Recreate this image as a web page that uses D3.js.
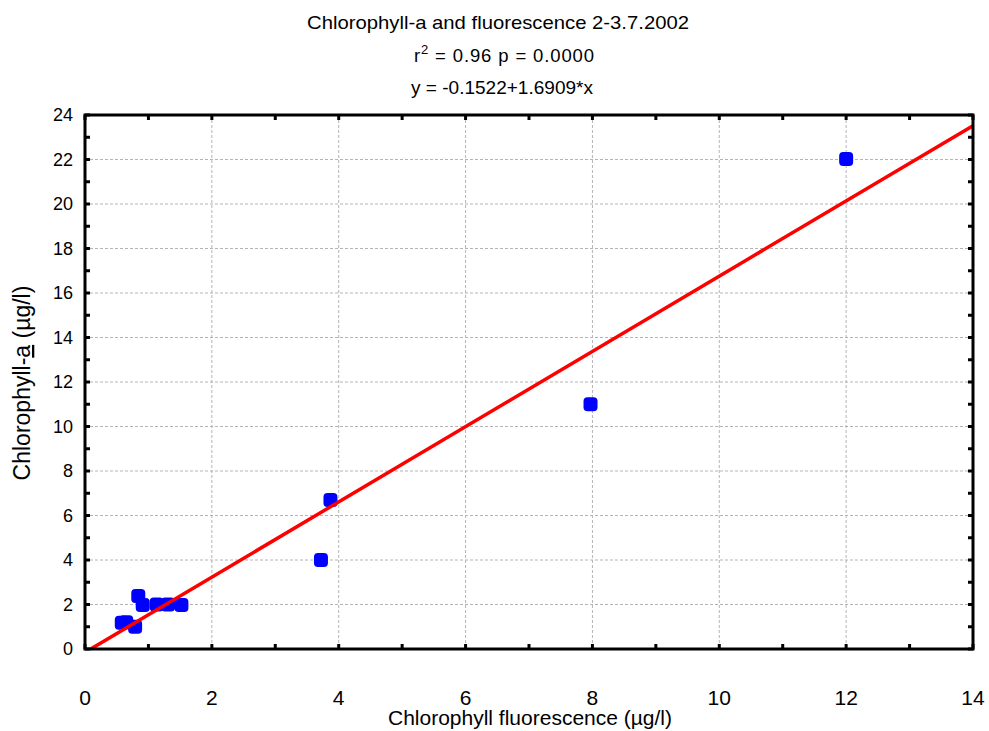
<!DOCTYPE html>
<html><head><meta charset="utf-8">
<script src="https://cdn.jsdelivr.net/npm/d3@7"></script>
<style>body{margin:0;background:#fff}svg{display:block}text{font-family:"Liberation Sans",Arial,sans-serif;fill:#000}
.narrow{font-family:"Liberation Sans Narrow","Liberation Sans",Arial,sans-serif}</style>
</head><body>
<script>
const xValues = [0.58, 0.65, 0.79, 0.84, 0.91, 1.13, 1.31, 1.52, 3.72, 3.87, 7.97, 12.0];
const yValues = [1.18, 1.2, 1.0, 2.38, 1.98, 2.0, 2.0, 1.98, 4.0, 6.7, 11.0, 22.02];
const xTicks = [0, 2, 4, 6, 8, 10, 12, 14];
const yTicks = [0, 2, 4, 6, 8, 10, 12, 14, 16, 18, 20, 22, 24];
const fitIntercept = -0.1522, fitSlope = 1.6909;
const titleLines = ["Chlorophyll-a and fluorescence 2-3.7.2002", " = 0.96  p = 0.0000", "y = -0.1522+1.6909*x"];

const W = 989, H = 731;
const L = 85, R = 973, T = 115, B = 649;
const svg = d3.select("body").append("svg").attr("width", W).attr("height", H);
const x = d3.scaleLinear().domain([0, 14]).range([L, R]);
const y = d3.scaleLinear().domain([0, 24]).range([B, T]);

// grid
const g = svg.append("g");
g.selectAll(".gx").data(xTicks.slice(1, -1)).enter().append("line")
  .attr("x1", d => x(d)).attr("x2", d => x(d)).attr("y1", T).attr("y2", B)
  .attr("stroke", "#b4b4b4").attr("stroke-width", 1).attr("stroke-dasharray", "3,2");
g.selectAll(".gy").data(yTicks.slice(1, -1)).enter().append("line")
  .attr("y1", d => y(d)).attr("y2", d => y(d)).attr("x1", L).attr("x2", R)
  .attr("stroke", "#b4b4b4").attr("stroke-width", 1).attr("stroke-dasharray", "3,2");

// points
const pts = xValues.map((v, i) => [v, yValues[i]]);
svg.append("g").selectAll("rect").data(pts).enter().append("rect")
  .attr("x", d => x(d[0]) - 7).attr("y", d => y(d[1]) - 7)
  .attr("width", 14).attr("height", 14).attr("rx", 4)
  .attr("fill", "#0000ff");

// fit line
const x0 = -fitIntercept / fitSlope;
svg.append("line")
  .attr("x1", x(x0)).attr("y1", y(0))
  .attr("x2", x(14)).attr("y2", y(fitIntercept + fitSlope * 14))
  .attr("stroke", "#ff0000").attr("stroke-width", 3.5);

// axes with inward ticks
const minorX = d3.range(0, 15, 1), minorY = d3.range(0, 25, 1);
const ax = svg.append("g");
ax.selectAll(".tx").data(minorX).enter().append("line")
  .attr("x1", d => x(d)).attr("x2", d => x(d)).attr("y1", B).attr("y2", B - 5)
  .attr("stroke", "#000").attr("stroke-width", 3);
ax.selectAll(".tx2").data(minorX).enter().append("line")
  .attr("x1", d => x(d)).attr("x2", d => x(d)).attr("y1", T).attr("y2", T + 5)
  .attr("stroke", "#000").attr("stroke-width", 3);
ax.selectAll(".ty").data(minorY).enter().append("line")
  .attr("y1", d => y(d)).attr("y2", d => y(d)).attr("x1", L).attr("x2", L + 5)
  .attr("stroke", "#000").attr("stroke-width", 3);
ax.selectAll(".ty2").data(minorY).enter().append("line")
  .attr("y1", d => y(d)).attr("y2", d => y(d)).attr("x1", R).attr("x2", R - 5)
  .attr("stroke", "#000").attr("stroke-width", 3);
svg.append("rect").attr("x", L).attr("y", T).attr("width", R - L).attr("height", B - T)
  .attr("fill", "none").attr("stroke", "#000").attr("stroke-width", 3);

// tick labels
svg.append("g").selectAll("text").data(xTicks).enter().append("text")
  .attr("class", "narrow")
  .attr("x", d => x(d)).attr("y", 705).attr("text-anchor", "middle")
  .attr("font-size", 21).text(d => d);
svg.append("g").selectAll("text").data(yTicks).enter().append("text")
  .attr("x", 73).attr("y", d => y(d) + 6).attr("text-anchor", "end")
  .attr("font-size", 18).text(d => d);

// titles
svg.append("text").attr("x", 498).attr("y", 29).attr("text-anchor", "middle").attr("font-size", 18.5)
  .attr("textLength", 382).attr("lengthAdjust", "spacingAndGlyphs").text(titleLines[0]);
const t2 = svg.append("text").attr("x", 414).attr("y", 62).attr("font-size", 18.5)
  .attr("textLength", 180).attr("lengthAdjust", "spacing");
t2.append("tspan").text("r");
t2.append("tspan").attr("dy", -8).attr("font-size", 13).text("2");
t2.append("tspan").attr("dy", 8).text(titleLines[1]);
svg.append("text").attr("x", 502).attr("y", 94).attr("text-anchor", "middle").attr("font-size", 18.5)
  .attr("textLength", 182).attr("lengthAdjust", "spacingAndGlyphs").text(titleLines[2]);

// axis titles
svg.append("text").attr("class", "narrow").attr("x", 530).attr("y", 725).attr("text-anchor", "middle").attr("font-size", 20)
  .attr("textLength", 284).attr("lengthAdjust", "spacingAndGlyphs").text("Chlorophyll fluorescence (µg/l)");
const yl = svg.append("text").attr("transform", "translate(30,383) rotate(-90)").attr("text-anchor", "middle").attr("font-size", 23);
yl.append("tspan").text("Chlorophyll-");
yl.append("tspan").attr("text-decoration", "underline").text("a");
yl.append("tspan").text(" (µg/l)");
</script>
</body></html>
